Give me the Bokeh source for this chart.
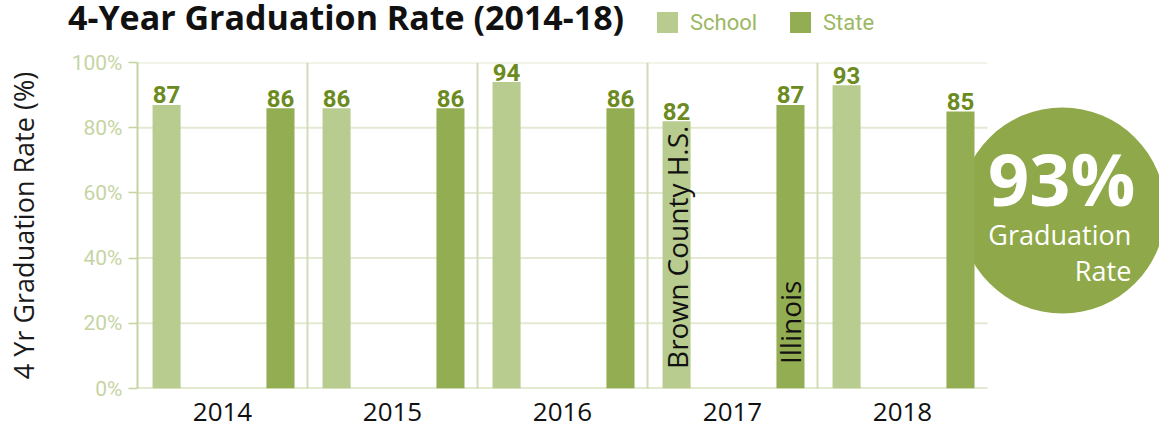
import numpy as np
from bokeh.plotting import figure
from bokeh.layouts import column
from bokeh.models import Div, FixedTicker, PrintfTickFormatter, Range1d
from bokeh.embed import file_html
from bokeh.resources import INLINE
from bokeh.core.properties import value

# ---------------- data ----------------
years = ["2014", "2015", "2016", "2017", "2018"]
school = [87, 86, 94, 82, 93]
state = [86, 86, 86, 87, 85]
series_names = ["School", "State"]
bar_names = ["Brown County H.S.", "Illinois"]
annotated_year = "2017"
y_ticks = [0, 20, 40, 60, 80, 100]
title_text = "4-Year Graduation Rate (2014-18)"
y_title = "4 Yr Graduation Rate (%)"
badge_caption = ["Graduation", "Rate"]

# ---------------- layout constants ----------------
W, H = 1159, 433
HEAD_H = 44
FRAME_L, FRAME_T, FRAME_B = 137, 62, 388
PX_PER_GROUP = 170
SCHOOL_OFF, STATE_OFF, BAR_W = 0.171, 0.841, 0.165

SCHOOL_COL = "#b8cc8f"
STATE_COL = "#93ad52"
BADGE_COL = "#8fa94a"
LABEL_COL = "#6b8a20"
TICK_COL = "#c6d4a3"
AXIS_COL = "#c4d3a0"
LEGEND_TXT = "#9cb863"

n = len(years)
idx = np.arange(n)
x_end = (W - FRAME_L) / PX_PER_GROUP

# ---------------- header (title + legend) ----------------
legend_x = [657, 790]          # swatch left edges
legend_cols = [SCHOOL_COL, STATE_COL]
parts = [
    f'<div style="position:absolute;left:68px;top:0px;white-space:nowrap;'
    f'font-family:\'Open Sans\';font-weight:bold;font-size:34px;line-height:34px;'
    f'color:#111111;">{title_text}</div>'
]
for lx, col, name in zip(legend_x, legend_cols, series_names):
    parts.append(f'<div style="position:absolute;left:{lx}px;top:12px;width:21px;'
                 f'height:21px;background:{col};"></div>')
    parts.append(f'<div style="position:absolute;left:{lx + 33}px;top:12px;'
                 f'white-space:nowrap;font-family:Roboto;font-size:22px;'
                 f'line-height:21px;color:{LEGEND_TXT};">{name}</div>')
head_html = (f'<div style="position:relative;width:{W}px;height:{HEAD_H}px;'
             f'overflow:hidden;margin:0;padding:0;">' + "".join(parts) + '</div>')
head = Div(text=head_html, width=W, height=HEAD_H, margin=(0, 0, 0, 0))

# ---------------- main chart ----------------
MH = H - HEAD_H
p = figure(width=W, height=MH, output_backend="svg", toolbar_location=None,
           title=None,
           x_range=Range1d(0, x_end), y_range=Range1d(0, 100),
           min_border_left=FRAME_L, min_border_right=0,
           min_border_top=FRAME_T - HEAD_H, min_border_bottom=H - FRAME_B,
           outline_line_color=None, border_fill_color="white",
           background_fill_color="white")
p.xgrid.visible = False
p.ygrid.visible = False

# gridlines, separators, baseline
gy = y_ticks[1:]
p.segment(x0=[0] * len(gy), x1=[n] * len(gy), y0=gy, y1=gy,
          line_color="#e3e9d3", line_width=2)
p.segment(x0=idx[1:], x1=idx[1:], y0=[0] * (n - 1), y1=[100] * (n - 1),
          line_color="#d3dcb8", line_width=2)
p.segment(x0=[0], x1=[n], y0=[0], y1=[0], line_color=AXIS_COL, line_width=2)

# badge circle (latest school rate)
bx, by = n + 0.44, 54.6
p.scatter(x=[bx], y=[by], size=206, marker="circle",
          fill_color=BADGE_COL, line_color=None)

# bars
p.vbar(x=idx + SCHOOL_OFF, top=school, width=BAR_W,
       fill_color=SCHOOL_COL, line_color=None)
p.vbar(x=idx + STATE_OFF, top=state, width=BAR_W,
       fill_color=STATE_COL, line_color=None)

# value labels
for offs, vals in ((SCHOOL_OFF, school), (STATE_OFF, state)):
    p.text(x=idx + offs, y=vals, text=[str(v) for v in vals],
           text_align="center", text_baseline="middle", y_offset=-10,
           text_font=value("Roboto"), text_font_size="24px",
           text_font_style="bold", text_color=LABEL_COL)

# series name labels inside 2017 bars
ai = years.index(annotated_year)
p.text(x=[ai + SCHOOL_OFF, ai + STATE_OFF], y=[6.0, 7.5], text=bar_names,
       angle=np.pi / 2, text_align="left", text_baseline="middle",
       text_font=value("Open Sans"), text_font_size="28px",
       text_color="#111111")

# badge texts
p.text(x=[bx], y=[by], text=[f"{school[-1]}%"], x_offset=73, y_offset=-33,
       text_align="right", text_baseline="middle",
       text_font=value("Open Sans"), text_font_size="72px",
       text_font_style="bold", text_color="white")
p.text(x=[bx, bx], y=[by, by], text=badge_caption, x_offset=69,
       y_offset=[24, 60], text_align="right", text_baseline="middle",
       text_font=value("Open Sans"), text_font_size="27px",
       text_color="white")

# axes
p.yaxis.ticker = FixedTicker(ticks=y_ticks)
p.yaxis.formatter = PrintfTickFormatter(format="%d%%")
p.yaxis.axis_label = y_title
p.yaxis.axis_label_text_font = "Open Sans"
p.yaxis.axis_label_text_font_size = "27px"
p.yaxis.axis_label_text_font_style = "normal"
p.yaxis.axis_label_text_color = "#1a1a1a"
p.yaxis.axis_label_standoff = 27
p.yaxis.major_label_text_font = "Roboto"
p.yaxis.major_label_text_font_size = "21px"
p.yaxis.major_label_text_color = TICK_COL
p.yaxis.major_label_standoff = 6
p.yaxis.axis_line_color = AXIS_COL
p.yaxis.axis_line_width = 2
p.yaxis.major_tick_line_color = AXIS_COL
p.yaxis.major_tick_line_width = 1.5
p.yaxis.major_tick_out = 9
p.yaxis.major_tick_in = 0
p.yaxis.minor_tick_line_color = None

p.xaxis.ticker = FixedTicker(ticks=[float(i) + 0.5 for i in idx])
p.xaxis.major_label_overrides = {float(i) + 0.5: y for i, y in zip(idx, years)}
p.xaxis.major_label_text_font = "Open Sans"
p.xaxis.major_label_text_font_size = "26px"
p.xaxis.major_label_text_color = "#111111"
p.xaxis.major_label_standoff = 8
p.xaxis.axis_line_color = None
p.xaxis.major_tick_line_color = None
p.xaxis.minor_tick_line_color = None

page = column(head, p, spacing=0)
open("out.html", "w").write(file_html(page, INLINE))
